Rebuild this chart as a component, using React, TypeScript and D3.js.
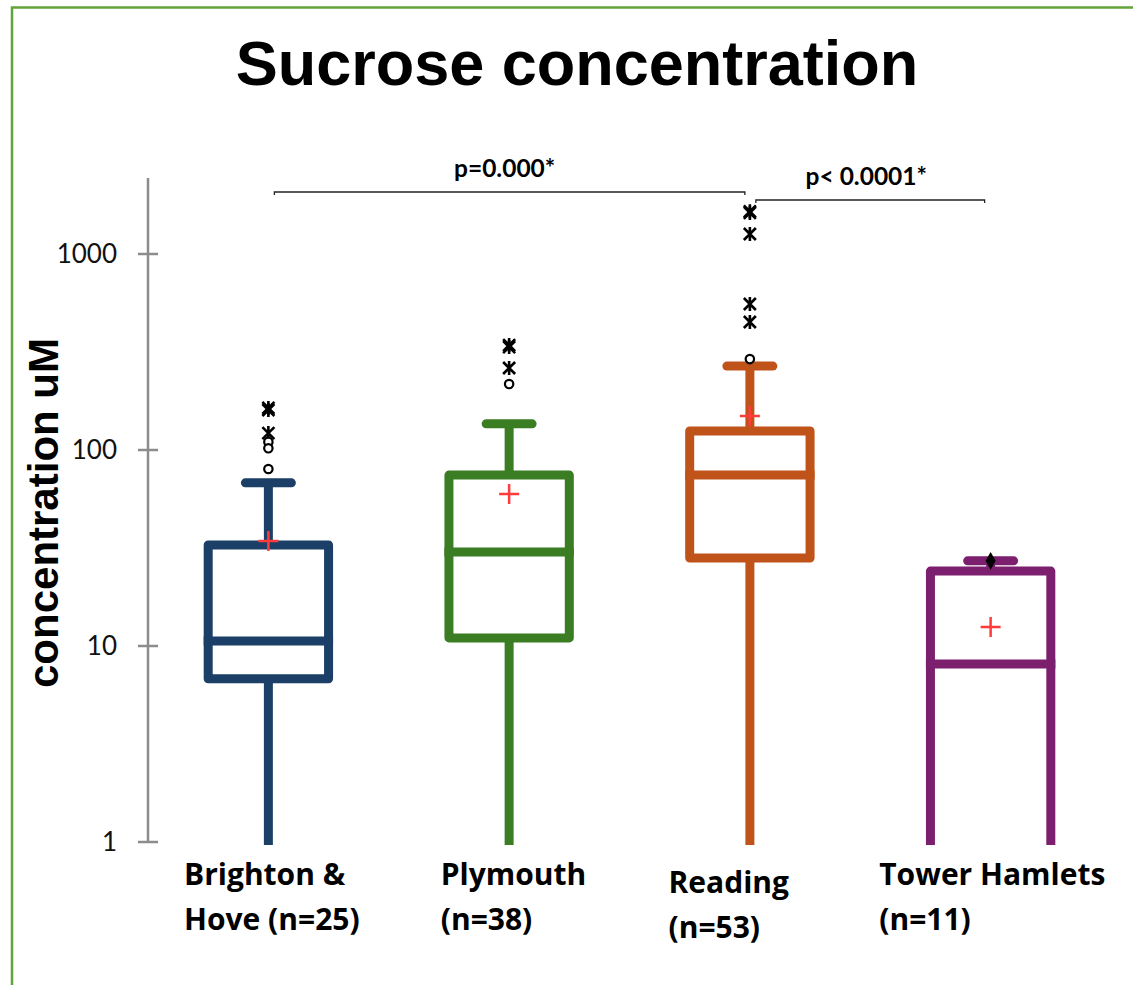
import React from 'react';
import * as d3 from 'd3';

// sites and their summary stats (log scale)
const sites = ["Brighton & Hove (n=25)", "Plymouth (n=38)", "Reading (n=53)", "Tower Hamlets (n=11)"];
const labelLines = [["Brighton &", "Hove (n=25)"], ["Plymouth", "(n=38)"], ["Reading", "(n=53)"], ["Tower Hamlets", "(n=11)"]];
const colors = ["#1b3f66", "#3b7d23", "#c0531a", "#7b1f6e"];

const q1 = [6.8, 11.0, 28.1, 0.9];
const median = [10.6, 30.2, 74.5, 8.1];
const q3 = [32.8, 74.5, 125, 24.1];
const whiskerLow = [0.9, 0.9, 0.9, 0.9];
const whiskerHigh = [68, 136, 268, 27.2];
const means = [34.3, 59.7, 149, 12.5];

const starOutliers = [[164, 160, 122], [343, 335, 262], [1650, 1620, 1265, 556, 450], []];
const circleOutliers = [[110, 102, 80], [217], [291], []];
const diamondOutliers = [[], [], [], [27.2]];

const yTicks = [1, 10, 100, 1000];
const brackets = [
  { from: 0, to: 2, text: "p=0.000*" },
  { from: 2, to: 3, text: "p< 0.0001*" },
];

const W = 1133, H = 985;
const calibri = "Lato, 'Open Sans', sans-serif";
const labelFont = "'Open Sans', Lato, sans-serif";
const arial = "'Liberation Sans', Arial, sans-serif";

export default function App() {
  const x = d3.scaleBand<string>().domain(sites).range([148, 1111]).padding(0);
  const y = d3.scaleLog().domain([1, 1000]).range([842, 254]);
  const cx = (i: number) => (x(sites[i]) as number) + x.bandwidth() / 2;
  const half = x.bandwidth() / 4;
  const axisTop = y.invert(178);

  // label x-offsets inside each band (the labels are left aligned text boxes)
  const labelDx = [36, 52, 39, 9];
  const labelDy = [0, 0, 8, 0];

  const bracketY = [192, 200];

  return (
    <svg width={W} height={H} style={{ position: 'absolute', left: 0, top: 0, background: '#fff' }}>
      <defs>
        <clipPath id="plot">
          <rect x={0} y={0} width={W} height={845} />
        </clipPath>
      </defs>
      <rect x={12} y={7.5} width={1300} height={1300} fill="none" stroke="#62a43a" strokeWidth={2.5} />

      <text x={577} y={85} textAnchor="middle" fontFamily={arial} fontWeight="bold" fontSize={63}>
        Sucrose concentration
      </text>

      {/* y axis */}
      <line x1={148} x2={148} y1={y(1)} y2={y(axisTop)} stroke="#8c8c8c" strokeWidth={2.5} />
      {yTicks.map(t => (
        <g key={t}>
          <line x1={138} x2={158} y1={y(t)} y2={y(t)} stroke="#8c8c8c" strokeWidth={2.5} />
          <text x={117} y={y(t)} dy="0.35em" textAnchor="end" fontFamily={calibri} fontSize={26} fill="#111">
            {t}
          </text>
        </g>
      ))}
      <text transform={`translate(58,513) rotate(-90)`} textAnchor="middle" fontFamily={arial} fontWeight="bold" fontSize={42}>
        concentration uM
      </text>

      {/* boxes */}
      <g clipPath="url(#plot)">
        {sites.map((s, i) => {
          const c = cx(i);
          const col = colors[i];
          return (
            <g key={s} fill="none" stroke={col} strokeWidth={9} strokeLinejoin="round">
              <line x1={c} x2={c} y1={y(q3[i])} y2={y(whiskerHigh[i])} />
              <line x1={c - 23} x2={c + 23} y1={y(whiskerHigh[i])} y2={y(whiskerHigh[i])} strokeLinecap="round" />
              <line x1={c} x2={c} y1={y(q1[i])} y2={y(whiskerLow[i])} />
              <path d={`M${c - half},${y(q1[i])}V${y(q3[i])}H${c + half}V${y(q1[i])}Z`} />
              <line x1={c - half} x2={c + half} y1={y(median[i])} y2={y(median[i])} strokeLinecap="square" />
            </g>
          );
        })}
      </g>

      {/* means and outliers */}
      {sites.map((s, i) => {
        const c = cx(i);
        return (
          <g key={s + 'pts'}>
            <path d={`M${c - 10},${y(means[i])}H${c + 10}M${c},${y(means[i]) - 10}V${y(means[i]) + 10}`} stroke="#ff3b3b" strokeWidth={2.5} />
            {starOutliers[i].map((v, j) => {
              const py = y(v);
              return (
                <path key={'s' + j} d={`M${c - 6},${py - 6}L${c + 6},${py + 6}M${c + 6},${py - 6}L${c - 6},${py + 6}M${c},${py - 7}V${py + 7}`}
                  stroke="#000" strokeWidth={2.6} fill="none" />
              );
            })}
            {circleOutliers[i].map((v, j) => (
              <circle key={'c' + j} cx={c} cy={y(v)} r={4.2} fill="#fff" stroke="#000" strokeWidth={2.2} />
            ))}
            {diamondOutliers[i].map((v, j) => (
              <path key={'d' + j} d={d3.symbol(d3.symbolDiamond, 90)() as string} transform={`translate(${c},${y(v)})`} fill="#000" />
            ))}
          </g>
        );
      })}

      {/* significance brackets */}
      {brackets.map((b, k) => {
        const x1 = cx(b.from) + 6;
        const x2 = cx(b.to) - (k === 0 ? 5 : 6);
        const by = bracketY[k];
        return (
          <g key={b.text}>
            <path d={`M${x1},${by + 3}V${by}H${x2}V${by + 3}`} fill="none" stroke="#222" strokeWidth={1.3} />
            <text x={(x1 + x2) / 2 - (k === 0 ? 5 : 4)} y={by - 15} textAnchor="middle" fontFamily={calibri} fontWeight="bold" fontSize={24.5}>
              {b.text}
            </text>
          </g>
        );
      })}

      {/* category labels */}
      {sites.map((s, i) => (
        <text key={s + 'lab'} x={(x(s) as number) + labelDx[i]} y={885 + labelDy[i]} fontFamily={labelFont} fontWeight="bold" fontSize={30}>
          {labelLines[i].map((l, j) => (
            <tspan key={j} x={(x(s) as number) + labelDx[i]} dy={j === 0 ? 0 : 45}>{l}</tspan>
          ))}
        </text>
      ))}
    </svg>
  );
}
